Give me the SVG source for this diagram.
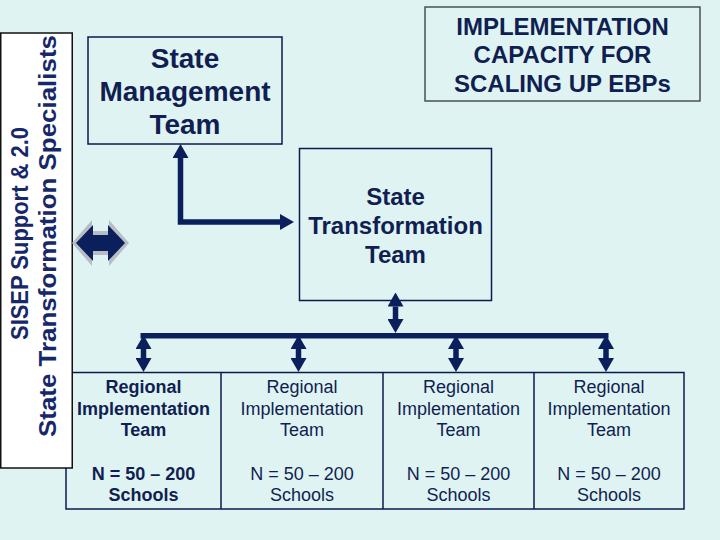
<svg xmlns="http://www.w3.org/2000/svg" width="720" height="540" viewBox="0 0 720 540">
<defs>
<style>
.t{font-family:"Liberation Sans",Arial,sans-serif;fill:#111E52;text-anchor:middle}
.b{font-weight:bold}
.box{fill:none;stroke:#0B1A4E;stroke-width:1.5}
.conn{fill:none;stroke:#0A1F5C;stroke-width:5.5;stroke-linejoin:miter}
</style>
<marker id="ah" markerUnits="userSpaceOnUse" markerWidth="14" markerHeight="16" refX="0" refY="8" orient="auto-start-reverse" viewBox="0 0 14 16">
<path d="M0,0 L14,8 L0,16 z" fill="#0A1F5C"/>
</marker>
</defs>
<rect width="720" height="540" fill="#DFF4F2"/>

<g id="regional-table">
<rect x="66" y="372.5" width="618" height="136.5" class="box"/>
<line x1="221" y1="372.5" x2="221" y2="509" class="box"/>
<line x1="383" y1="372.5" x2="383" y2="509" class="box"/>
<line x1="534" y1="372.5" x2="534" y2="509" class="box"/>
</g>

<g id="rit1">
<text class="t b" font-size="18" x="143.5" y="393">Regional</text>
<text class="t b" font-size="18" x="143.5" y="414.5">Implementation</text>
<text class="t b" font-size="18" x="143.5" y="436">Team</text>
<text class="t b" font-size="18" x="143.5" y="479.5">N = 50 – 200</text>
<text class="t b" font-size="18" x="143.5" y="501">Schools</text>
</g>
<g id="rit2">
<text class="t" font-size="18" x="302" y="393">Regional</text>
<text class="t" font-size="18" x="302" y="414.5">Implementation</text>
<text class="t" font-size="18" x="302" y="436">Team</text>
<text class="t" font-size="18" x="302" y="479.5">N = 50 – 200</text>
<text class="t" font-size="18" x="302" y="501">Schools</text>
</g>
<g id="rit3">
<text class="t" font-size="18" x="458.5" y="393">Regional</text>
<text class="t" font-size="18" x="458.5" y="414.5">Implementation</text>
<text class="t" font-size="18" x="458.5" y="436">Team</text>
<text class="t" font-size="18" x="458.5" y="479.5">N = 50 – 200</text>
<text class="t" font-size="18" x="458.5" y="501">Schools</text>
</g>
<g id="rit4">
<text class="t" font-size="18" x="609" y="393">Regional</text>
<text class="t" font-size="18" x="609" y="414.5">Implementation</text>
<text class="t" font-size="18" x="609" y="436">Team</text>
<text class="t" font-size="18" x="609" y="479.5">N = 50 – 200</text>
<text class="t" font-size="18" x="609" y="501">Schools</text>
</g>

<g id="sisep">
<rect x="0.75" y="33" width="71.5" height="435" fill="#FFFFFF" stroke="#111111" stroke-width="1.5"/>
<text class="t b" font-size="23" fill="#16286A" style="fill:#16286A" transform="translate(28,233.5) rotate(-90)" textLength="213" lengthAdjust="spacingAndGlyphs">SISEP Support &amp; 2.0</text>
<text class="t b" font-size="23" style="fill:#16286A" transform="translate(55.5,236) rotate(-90)" textLength="402" lengthAdjust="spacingAndGlyphs">State Transformation Specialists</text>
</g>

<g id="state-management-team">
<rect x="88" y="37" width="194" height="107" class="box"/>
<text class="t b" font-size="28" x="185" y="68">State</text>
<text class="t b" font-size="28" x="185" y="101">Management</text>
<text class="t b" font-size="28" x="185" y="134">Team</text>
</g>

<g id="implementation-capacity">
<rect x="425" y="7" width="275" height="94" fill="none" stroke="#4A4F5A" stroke-width="1.5"/>
<text class="t b" font-size="24" x="562.5" y="34.5">IMPLEMENTATION</text>
<text class="t b" font-size="24" x="562.5" y="63">CAPACITY FOR</text>
<text class="t b" font-size="24" x="562.5" y="91.5">SCALING UP EBPs</text>
</g>

<g id="state-transformation-team">
<rect x="299.5" y="148.5" width="192" height="152" class="box"/>
<text class="t b" font-size="24" x="395.5" y="204.5">State</text>
<text class="t b" font-size="24" x="395.5" y="233.5">Transformation</text>
<text class="t b" font-size="24" x="395.5" y="262.5">Team</text>
</g>

<g id="exchange-icon">
<polygon points="72,243 92,220 92,231 109,231 109,220 129,243 109,266 109,255 92,255 92,266" fill="#B8BCC4"/>
<polygon points="76,243 93,225 93,235 108,235 108,225 125,243 108,261 108,251 93,251 93,261" fill="#0A1F5C"/>
</g>

<g id="connectors">
<path class="conn" d="M180.5,158 V222 H280" marker-start="url(#ah)" marker-end="url(#ah)"/>
<path class="conn" d="M395.5,306.5 V319" marker-start="url(#ah)" marker-end="url(#ah)"/>
<rect x="140.5" y="333" width="468" height="5.5" fill="#0A1F5C"/>
<path class="conn" d="M143.5,349 V358" marker-start="url(#ah)" marker-end="url(#ah)"/>
<path class="conn" d="M298.5,349 V358" marker-start="url(#ah)" marker-end="url(#ah)"/>
<path class="conn" d="M456,349 V358" marker-start="url(#ah)" marker-end="url(#ah)"/>
<path class="conn" d="M606,349 V358" marker-start="url(#ah)" marker-end="url(#ah)"/>
</g>
</svg>
